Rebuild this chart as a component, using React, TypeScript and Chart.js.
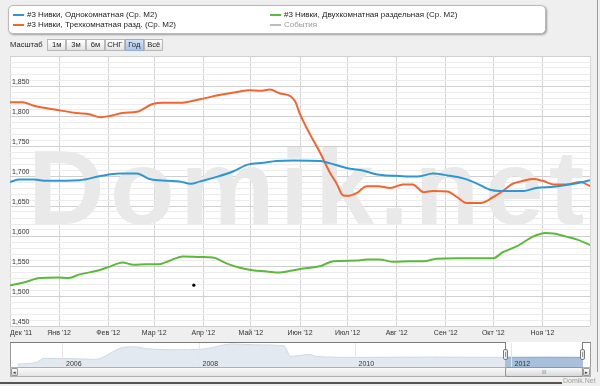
import React, { useEffect, useRef } from 'react';
import { Chart, registerables } from 'chart.js';

Chart.register(...registerables);

const FONT = '"Liberation Sans", Arial, Helvetica, sans-serif';

// ---- data ----
const seriesNames = [
  '#3 Нивки, Однокомнатная (Ср. М2)',
  '#3 Нивки, Трехкомнатная разд. (Ср. М2)',
  '#3 Нивки, Двухкомнатная раздельная (Ср. М2)',
];
const seriesColors = ['#2e97d3', '#f2652f', '#5cb93b'];
const eventsName = 'События';

const oneRoomDates = ['2011-12-01', '2011-12-07', '2011-12-16', '2011-12-24', '2012-01-14', '2012-01-27', '2012-02-08', '2012-02-19', '2012-02-27', '2012-03-09', '2012-03-17', '2012-03-24', '2012-03-30', '2012-04-10', '2012-04-20', '2012-04-29', '2012-05-09', '2012-05-17', '2012-05-28', '2012-06-14', '2012-06-20', '2012-07-01', '2012-07-09', '2012-07-21', '2012-08-03', '2012-08-14', '2012-08-24', '2012-09-02', '2012-09-12', '2012-09-21', '2012-09-29', '2012-10-05', '2012-10-20', '2012-10-28', '2012-11-08', '2012-11-16', '2012-11-25', '2012-12-01'];
const oneRoomValues = [1690, 1694, 1694, 1692, 1693, 1700, 1704, 1704, 1695, 1692, 1691, 1687, 1691, 1699, 1708, 1719, 1722, 1725, 1726, 1725, 1721, 1713, 1710, 1702, 1700, 1699, 1704, 1701, 1696, 1687, 1677, 1675, 1675, 1680, 1682, 1685, 1689, 1693];

const threeRoomDates = ['2011-12-01', '2011-12-09', '2011-12-16', '2011-12-31', '2012-01-12', '2012-01-20', '2012-01-27', '2012-02-02', '2012-02-10', '2012-02-19', '2012-02-29', '2012-03-07', '2012-03-17', '2012-03-30', '2012-04-11', '2012-04-24', '2012-04-30', '2012-05-07', '2012-05-13', '2012-05-19', '2012-05-26', '2012-05-29', '2012-06-01', '2012-06-07', '2012-06-14', '2012-06-20', '2012-06-24', '2012-06-28', '2012-07-01', '2012-07-07', '2012-07-13', '2012-07-20', '2012-07-28', '2012-08-05', '2012-08-11', '2012-08-18', '2012-08-24', '2012-09-02', '2012-09-08', '2012-09-14', '2012-09-23', '2012-10-01', '2012-10-07', '2012-10-13', '2012-10-20', '2012-10-26', '2012-11-01', '2012-11-08', '2012-11-16', '2012-11-25', '2012-12-01'];
const threeRoomValues = [1823, 1823, 1817, 1810, 1805, 1803, 1798, 1800, 1805, 1807, 1820, 1822, 1822, 1828, 1835, 1841, 1843, 1842, 1844, 1838, 1833, 1824, 1803, 1771, 1737, 1705, 1688, 1668, 1667, 1672, 1683, 1683, 1680, 1686, 1686, 1673, 1675, 1674, 1665, 1655, 1655, 1665, 1675, 1687, 1692, 1695, 1692, 1686, 1686, 1690, 1683];

const twoRoomDates = ['2011-12-01', '2011-12-09', '2011-12-20', '2011-12-31', '2012-01-07', '2012-01-14', '2012-01-25', '2012-02-02', '2012-02-10', '2012-02-17', '2012-02-25', '2012-03-04', '2012-03-10', '2012-03-19', '2012-03-30', '2012-04-07', '2012-04-16', '2012-04-24', '2012-05-02', '2012-05-11', '2012-05-19', '2012-05-26', '2012-06-01', '2012-06-14', '2012-06-22', '2012-07-07', '2012-07-13', '2012-07-21', '2012-07-30', '2012-08-09', '2012-08-18', '2012-08-26', '2012-09-08', '2012-09-21', '2012-10-01', '2012-10-07', '2012-10-16', '2012-10-26', '2012-11-03', '2012-11-08', '2012-11-16', '2012-11-23', '2012-12-01'];
const twoRoomValues = [1518, 1522, 1530, 1531, 1530, 1536, 1542, 1549, 1556, 1552, 1553, 1553, 1558, 1566, 1565, 1564, 1554, 1547, 1543, 1541, 1539, 1542, 1545, 1550, 1558, 1559, 1561, 1561, 1557, 1558, 1558, 1562, 1563, 1563, 1563, 1573, 1583, 1599, 1605, 1604, 1599, 1594, 1585];

const eventDates = ['2012-03-26'];
const eventValues = [1518];

const monthTickDates = ['2011-12-01', '2012-01-01', '2012-02-01', '2012-03-01', '2012-04-01', '2012-05-01', '2012-06-01', '2012-07-01', '2012-08-01', '2012-09-01', '2012-10-01', '2012-11-01', '2012-12-01'];
const monthLabels = ["Дек '11", "Янв '12", "Фев '12", "Мар '12", "Апр '12", "Май '12", "Июн '12", "Июл '12", "Авг '12", "Сен '12", "Окт '12", "Ноя '12", ''];

const yMin = 1450;
const yMax = 1900;
const yMinorStep = 10;
const yMajorStep = 50;

// navigator (long history)
const navDates = ['2005-09', '2005-12', '2006-01', '2006-03', '2006-09', '2006-12', '2007-01', '2007-03', '2007-05', '2007-10', '2008-02', '2008-06', '2008-10', '2009-02', '2009-03', '2009-06', '2009-07', '2010-01', '2011-01', '2011-12', '2012-06', '2012-12'];
const navValues = [510, 850, 1530, 1530, 1360, 2890, 3400, 3570, 3230, 3060, 3230, 4080, 3910, 3740, 1900, 2210, 1870, 1700, 1750, 1700, 1720, 1700];
const navSelectionStart = '2011-12';
const navYearTickMonths = [3, 24, 48, 72];
const navYearLabels = ['2006', '2008', '2010', '2012'];

const scaleButtons = ['1м', '3м', '6м', 'СНГ', 'Год', 'Всё'];
const selectedScale = 'Год';

// ---- helpers ----
const START = Date.UTC(2011, 11, 1);
const dayOf = (s: string) => {
  const [y, m, d] = s.split('-').map(Number);
  return (Date.UTC(y, m - 1, d) - START) / 86400000;
};
const monthOf = (s: string) => {
  const [y, m] = s.split('-').map(Number);
  return (y - 2006) * 12 + (m - 1);
};
const toPoints = (dates: string[], vals: number[]) => dates.map((d, i) => ({ x: dayOf(d), y: vals[i] }));

const monthTickDays = monthTickDates.map(dayOf);
const yTickValues: number[] = [];
for (let v = yMin; v <= yMax; v += yMinorStep) yTickValues.push(v);

const plotBg = {
  id: 'plotBg',
  beforeDraw(chart: any) {
    const { ctx, chartArea: a } = chart;
    ctx.save();
    ctx.fillStyle = '#ffffff';
    ctx.fillRect(a.left, a.top, a.right - a.left, a.bottom - a.top);
    ctx.restore();
  },
};

const watermark = {
  id: 'watermark',
  beforeDatasetsDraw(chart: any) {
    const { ctx, chartArea: a } = chart;
    ctx.save();
    ctx.beginPath();
    ctx.rect(a.left, a.top, a.right - a.left, a.bottom - a.top);
    ctx.clip();
    ctx.fillStyle = '#e9e9e9';
    ctx.font = `bold 106px ${FONT}`;
    try { (ctx as any).letterSpacing = '5.5px'; } catch (e) {}
    ctx.textBaseline = 'alphabetic';
    ctx.textAlign = 'left';
    ctx.fillText('Domik.net', a.left + 18, 224);
    ctx.restore();
  },
};

export default function App() {
  const mainRef = useRef<HTMLCanvasElement>(null);
  const navRef = useRef<HTMLCanvasElement>(null);

  useEffect(() => {
    const seriesData = [
      toPoints(oneRoomDates, oneRoomValues),
      toPoints(threeRoomDates, threeRoomValues),
      toPoints(twoRoomDates, twoRoomValues),
    ];
    const main = new Chart(mainRef.current as HTMLCanvasElement, {
      type: 'line',
      data: {
        datasets: [
          ...seriesData.map((d, i) => ({
            label: seriesNames[i],
            data: d,
            borderColor: seriesColors[i],
            backgroundColor: seriesColors[i],
            borderWidth: 2,
            pointRadius: 0,
            cubicInterpolationMode: 'monotone' as const,
            fill: false,
          })),
          {
            label: eventsName,
            data: toPoints(eventDates, eventValues),
            showLine: false,
            pointRadius: 1.6,
            pointBorderWidth: 0,
            backgroundColor: '#000',
            borderColor: '#000',
          },
        ],
      },
      options: {
        animation: false,
        responsive: false,
        events: [],
        layout: { padding: { left: 10, right: 10, top: 56, bottom: 0 } },
        plugins: { legend: { display: false }, tooltip: { enabled: false } },
        scales: {
          x: {
            type: 'linear',
            min: monthTickDays[0],
            max: monthTickDays[monthTickDays.length - 1],
            afterBuildTicks: (s: any) => { s.ticks = monthTickDays.map((v) => ({ value: v })); },
            afterFit: (s: any) => { s.height = 60; },
            grid: { color: '#d6d6d6', drawTicks: false },
            border: { display: false },
            ticks: {
              autoSkip: false,
              maxRotation: 0,
              minRotation: 0,
              align: 'inner',
              padding: 3,
              color: '#333',
              font: { family: FONT, size: 7 },
              callback: (_v: any, i: number) => monthLabels[i] ?? '',
            },
          },
          y: {
            type: 'linear',
            min: yMin,
            max: yMax,
            afterBuildTicks: (s: any) => { s.ticks = yTickValues.map((v) => ({ value: v })); },
            afterFit: (s: any) => { s.width = 0; },
            grid: {
              color: (c: any) => (c.tick && c.tick.value % yMajorStep === 0 ? '#cfcfcf' : '#ececec'),
              drawTicks: false,
            },
            border: { display: false },
            ticks: {
              mirror: true,
              padding: 2,
              labelOffset: -4,
              autoSkip: false,
              color: '#333',
              font: { family: FONT, size: 7 },
              callback: (v: any) => (v % yMajorStep === 0 && v < yMax ? Number(v).toLocaleString('en-US') : ''),
            },
          },
        },
      },
      plugins: [plotBg, watermark],
    } as any);

    const navPts = navDates.map((d, i) => ({ x: monthOf(d), y: navValues[i] }));
    const selStart = monthOf(navSelectionStart);
    const nav = new Chart(navRef.current as HTMLCanvasElement, {
      type: 'line',
      data: {
        datasets: [
          {
            data: navPts.filter((p) => p.x >= selStart),
            borderColor: '#8ea8ca',
            backgroundColor: '#a9c0dd',
            borderWidth: 1,
            pointRadius: 0,
            fill: 'origin',
            cubicInterpolationMode: 'monotone',
          },
          {
            data: navPts,
            borderColor: '#cfd8e3',
            backgroundColor: '#e3e9f0',
            borderWidth: 1,
            pointRadius: 0,
            fill: 'origin',
            cubicInterpolationMode: 'monotone',
          },
        ],
      },
      options: {
        animation: false,
        responsive: false,
        events: [],
        layout: { padding: 0 },
        plugins: { legend: { display: false }, tooltip: { enabled: false } },
        scales: {
          x: {
            type: 'linear',
            min: -5,
            max: 84.08,
            afterBuildTicks: (s: any) => { s.ticks = navYearTickMonths.map((v) => ({ value: v })); },
            afterFit: (s: any) => { s.height = 0; },
            grid: { color: '#e6e6e6', drawTicks: false, z: 1 },
            border: { display: false },
            ticks: {
              z: 2,
              mirror: true,
              align: 'start',
              padding: -1,
              labelOffset: 3,
              autoSkip: false,
              maxRotation: 0,
              color: '#333',
              font: { family: FONT, size: 7 },
              callback: (_v: any, i: number) => navYearLabels[i] ?? '',
            },
          },
          y: { display: false, min: 0, max: 4250 },
        },
      },
    } as any);

    return () => {
      main.destroy();
      nav.destroy();
    };
  }, []);

  const legendItems = [
    { name: seriesNames[0], color: seriesColors[0], left: 13, top: 10, text: '#222' },
    { name: seriesNames[1], color: seriesColors[1], left: 13, top: 20, text: '#222' },
    { name: seriesNames[2], color: seriesColors[2], left: 270, top: 10, text: '#222' },
    { name: eventsName, color: '#bdbdbd', left: 270, top: 20, text: '#9a9a9a' },
  ];

  const line = (l: number, t: number, w: number, h: number, c: string) => (
    <div style={{ position: 'absolute', left: l, top: t, width: w, height: h, background: c }} />
  );

  return (
    <div style={{ position: 'fixed', left: 0, top: 0, width: 600, height: 386, background: '#efefef', overflow: 'hidden', fontFamily: FONT }}>
      <canvas ref={mainRef} width={600} height={386} style={{ position: 'absolute', left: 0, top: 0, width: 600, height: 386 }} />

      {/* legend box */}
      <div style={{ position: 'absolute', left: 8, top: 5, width: 536, height: 27, background: '#fff', border: '1px solid #b9b9b9', borderRadius: 5, boxShadow: '1px 1px 2px rgba(0,0,0,0.35)' }} />
      {legendItems.map((it) => (
        <div key={it.name} style={{ position: 'absolute', left: it.left, top: it.top, height: 10, display: 'flex', alignItems: 'center', whiteSpace: 'nowrap' }}>
          <div style={{ width: 11, height: 2, background: it.color, marginRight: 3 }} />
          <span style={{ fontSize: 8, lineHeight: '10px', color: it.text }}>{it.name}</span>
        </div>
      ))}

      {/* scale buttons */}
      <div style={{ position: 'absolute', left: 10, top: 40, height: 10, lineHeight: '10px', fontSize: 7.6, color: '#222' }}>Масштаб</div>
      {scaleButtons.map((b, i) => {
        const sel = b === selectedScale;
        return (
          <div key={b} style={{ position: 'absolute', left: 47 + i * 19.4, top: 39, width: 19.4, height: 12, boxSizing: 'border-box', border: `1px solid ${sel ? '#93acd0' : '#b8b8b8'}`, background: sel ? 'linear-gradient(#cfe0f5, #aac4e8)' : 'linear-gradient(#ffffff, #e2e2e2)', fontSize: 7.6, lineHeight: '10px', textAlign: 'center', color: '#222' }}>{b}</div>
        );
      })}

      {/* navigator */}
      <div style={{ position: 'absolute', left: 10, top: 342, width: 581, height: 35, background: '#fff' }} />
      <canvas ref={navRef} width={579} height={24} style={{ position: 'absolute', left: 11, top: 343, width: 579, height: 24 }} />
      {line(10, 342, 1, 35, '#9a9a9a')}
      {line(590, 342, 1, 35, '#9a9a9a')}
      {line(10, 342, 495, 1, '#7d7d7d')}
      {line(583, 342, 8, 1, '#7d7d7d')}
      {line(505, 342, 1, 7, '#7d7d7d')}
      {line(582, 342, 1, 7, '#7d7d7d')}
      {/* scrollbar */}
      <div style={{ position: 'absolute', left: 10, top: 367, width: 581, height: 10, boxSizing: 'border-box', border: '1px solid #b0b0b0', background: 'linear-gradient(#fbfbfb, #e4e4e4)' }} />
      <div style={{ position: 'absolute', left: 11, top: 368, width: 7, height: 8, boxSizing: 'border-box', border: '1px solid #999', borderRadius: 1, background: 'linear-gradient(#fdfdfd, #d9d9d9)', fontSize: 5, lineHeight: '6px', textAlign: 'center', color: '#333' }}>◂</div>
      <div style={{ position: 'absolute', left: 583, top: 368, width: 7, height: 8, boxSizing: 'border-box', border: '1px solid #999', borderRadius: 1, background: 'linear-gradient(#fdfdfd, #d9d9d9)', fontSize: 5, lineHeight: '6px', textAlign: 'center', color: '#333' }}>▸</div>
      <div style={{ position: 'absolute', left: 505, top: 367, width: 78, height: 10, boxSizing: 'border-box', border: '1px solid #959595', borderRadius: 2, background: 'linear-gradient(#fafafa, #d8d8d8)', fontSize: 5, lineHeight: '8px', textAlign: 'center', color: '#777', letterSpacing: 0 }}>III</div>
      {/* handles */}
      {[503, 580].map((x) => (
        <div key={x} style={{ position: 'absolute', left: x, top: 349, width: 5, height: 11, boxSizing: 'border-box', border: '1px solid #7a7a7a', borderRadius: 2, background: 'linear-gradient(90deg, #fff, #dcdcdc)' }}>
          <div style={{ position: 'absolute', left: 1, top: 2, width: 1, height: 5, background: '#999' }} />
        </div>
      ))}

      {/* frame + footer */}
      {line(597, 0, 1, 372, '#9d9d9d')}
      {line(0, 382, 562, 2, '#555')}
      <div style={{ position: 'absolute', left: 563, top: 377, fontSize: 7, lineHeight: '8px', color: '#a0a0a0' }}>Domik.Net</div>
    </div>
  );
}
